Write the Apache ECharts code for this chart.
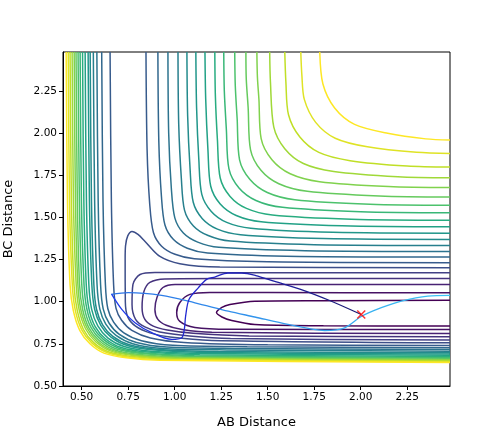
<!DOCTYPE html>
<html>
<head>
<meta charset="utf-8">
<script src="https://cdn.jsdelivr.net/npm/echarts@6/dist/echarts.min.js"></script>
<style>
html, body { margin: 0; padding: 0; background: #fff; }
#main { width: 500px; height: 434px; }
</style>
</head>
<body>
<div id="main"></div>
<script>
// tick labels on both axes
var xTicks = [0.5, 0.75, 1.0, 1.25, 1.5, 1.75, 2.0, 2.25];
var yTicks = [0.5, 0.75, 1.0, 1.25, 1.5, 1.75, 2.0, 2.25];

// lowest 6 levels: loops in the BC valley, open to the right
var loopLevels = [
    [[2.48,1.009],[1.8,1.006],[1.431,1.003],[1.297,0.983],[1.254,0.966],[1.225,0.935],[1.254,0.909],[1.307,0.888],[1.431,0.864],[1.8,0.857],[2.48,0.855]],
    [[2.48,1.053],[1.5,1.054],[1.189,1.055],[1.082,1.043],[1.028,0.995],[1.011,0.936],[1.028,0.883],[1.109,0.847],[1.297,0.836],[2.48,0.835]],
    [[2.48,1.102],[1.3,1.102],[1.002,1.102],[0.937,1.084],[0.905,1.025],[0.894,0.954],[0.91,0.895],[0.955,0.86],[1.04,0.835],[1.2,0.818],[2.48,0.811]],
    [[2.48,1.138],[1.3,1.137],[0.948,1.135],[0.867,1.114],[0.835,1.06],[0.825,0.966],[0.84,0.895],[0.885,0.855],[0.96,0.832],[1.1,0.812],[1.4,0.797],[2.48,0.792]],
    [[2.48,1.171],[1.3,1.172],[0.894,1.173],[0.814,1.161],[0.776,1.102],[0.771,0.983],[0.79,0.895],[0.84,0.85],[0.92,0.82],[1.08,0.797],[1.3,0.782],[2.48,0.772]],
    [[2.48,1.201],[1.243,1.205],[1.028,1.225],[0.921,1.268],[0.841,1.357],[0.803,1.399],[0.771,1.416],[0.748,1.39],[0.736,1.33],[0.734,1.25],[0.735,1.0],[0.748,0.91],[0.79,0.855],[0.867,0.815],[0.975,0.79],[1.2,0.77],[2.48,0.756]]
];

// next 16 levels, outer branch (top edge -> right edge)
var outerLevels = [
    [[0.846,2.48],[0.852,1.9],[0.866,1.58],[0.886,1.41],[0.93,1.329],[1.002,1.281],[1.106,1.254],[1.5,1.236],[2.48,1.231]],
    [[0.910,2.48],[0.915,1.95],[0.929,1.625],[0.948,1.454],[0.994,1.368],[1.068,1.317],[1.177,1.288],[1.6,1.269],[2.48,1.264]],
    [[0.964,2.48],[0.968,2.0],[0.982,1.677],[1.001,1.497],[1.047,1.407],[1.124,1.353],[1.238,1.322],[1.7,1.302],[2.48,1.297]],
    [[1.018,2.48],[1.022,2.05],[1.036,1.732],[1.053,1.543],[1.101,1.449],[1.18,1.392],[1.299,1.359],[1.75,1.338],[2.48,1.333]],
    [[1.066,2.48],[1.07,2.1],[1.083,1.787],[1.10,1.589],[1.149,1.492],[1.23,1.43],[1.354,1.397],[1.8,1.374],[2.48,1.369]],
    [[1.114,2.48],[1.118,2.15],[1.13,1.843],[1.146,1.636],[1.197,1.535],[1.28,1.47],[1.409,1.435],[1.85,1.411],[2.48,1.406]],
    [[1.163,2.48],[1.167,2.2],[1.179,1.9],[1.194,1.684],[1.245,1.579],[1.331,1.511],[1.465,1.474],[1.9,1.45],[2.48,1.444]],
    [[1.216,2.48],[1.219,2.22],[1.23,1.958],[1.245,1.733],[1.298,1.624],[1.386,1.553],[1.525,1.514],[1.95,1.489],[2.48,1.483]],
    [[1.264,2.48],[1.267,2.25],[1.278,2.021],[1.292,1.787],[1.346,1.674],[1.437,1.6],[1.58,1.559],[2.0,1.533],[2.48,1.527]],
    [[1.323,2.48],[1.326,2.28],[1.336,2.084],[1.349,1.841],[1.405,1.724],[1.498,1.647],[1.646,1.604],[2.05,1.577],[2.48,1.571]],
    [[1.383,2.48],[1.385,2.32],[1.395,2.152],[1.408,1.90],[1.464,1.779],[1.56,1.699],[1.713,1.654],[2.1,1.626],[2.48,1.62]],
    [[1.442,2.48],[1.445,2.33],[1.453,2.2],[1.465,1.966],[1.523,1.841],[1.621,1.758],[1.779,1.711],[2.15,1.682],[2.48,1.676]],
    [[1.511,2.48],[1.515,2.3],[1.533,2.035],[1.592,1.907],[1.692,1.819],[1.855,1.772],[2.2,1.741],[2.48,1.735]],
    [[1.592,2.48],[1.598,2.3],[1.612,2.108],[1.673,1.976],[1.775,1.885],[1.943,1.836],[2.25,1.804],[2.48,1.798]],
    [[1.678,2.48],[1.684,2.34],[1.697,2.199],[1.758,2.063],[1.863,1.969],[2.036,1.918],[2.3,1.885],[2.48,1.879]],
    [[1.78,2.48],[1.797,2.29],[1.86,2.148],[1.967,2.051],[2.145,1.998],[2.35,1.965],[2.48,1.958]]
];

// same 16 levels, inner branch along the repulsive wall
var innerLevels = [
    [[0.653,2.48],[0.66,1.6],[0.672,1.1],[0.685,0.96],[0.715,0.89],[0.77,0.83],[0.87,0.785],[1.05,0.758],[1.5,0.744],[2.48,0.740]],
    [[0.608,2.48],[0.615,1.6],[0.628,1.1],[0.641,0.958],[0.672,0.879],[0.727,0.815],[0.822,0.768],[0.991,0.741],[1.39,0.733],[2.48,0.727]],
    [[0.582,2.48],[0.589,1.6],[0.602,1.1],[0.616,0.957],[0.648,0.872],[0.703,0.806],[0.795,0.758],[0.957,0.731],[1.326,0.723],[2.48,0.716]],
    [[0.563,2.48],[0.57,1.6],[0.583,1.1],[0.598,0.956],[0.63,0.867],[0.685,0.80],[0.775,0.751],[0.932,0.723],[1.28,0.714],[2.48,0.706]],
    [[0.546,2.48],[0.553,1.6],[0.566,1.1],[0.58,0.955],[0.613,0.863],[0.668,0.794],[0.756,0.744],[0.909,0.717],[1.236,0.705],[2.48,0.697]],
    [[0.535,2.48],[0.542,1.6],[0.555,1.1],[0.57,0.955],[0.603,0.86],[0.658,0.79],[0.745,0.74],[0.895,0.713],[1.21,0.698],[2.48,0.689]],
    [[0.519,2.48],[0.526,1.6],[0.539,1.1],[0.554,0.954],[0.587,0.856],[0.642,0.784],[0.728,0.734],[0.873,0.706],[1.169,0.692],[2.48,0.682]],
    [[0.505,2.48],[0.512,1.6],[0.525,1.1],[0.54,0.954],[0.573,0.852],[0.628,0.78],[0.713,0.728],[0.855,0.701],[1.135,0.685],[2.48,0.675]],
    [[0.492,2.48],[0.499,1.6],[0.513,1.1],[0.529,0.953],[0.562,0.849],[0.617,0.776],[0.70,0.724],[0.839,0.696],[1.106,0.68],[2.48,0.669]],
    [[0.481,2.48],[0.488,1.6],[0.501,1.1],[0.517,0.953],[0.551,0.846],[0.606,0.772],[0.688,0.719],[0.824,0.692],[1.077,0.675],[2.48,0.664]],
    [[0.47,2.48],[0.477,1.6],[0.489,1.1],[0.506,0.952],[0.54,0.843],[0.595,0.768],[0.675,0.715],[0.808,0.687],[1.048,0.671],[2.48,0.659]],
    [[0.46,2.48],[0.467,1.6],[0.48,1.1],[0.496,0.952],[0.531,0.841],[0.586,0.764],[0.665,0.711],[0.796,0.683],[1.024,0.667],[2.48,0.655]],
    [[0.449,2.48],[0.456,1.6],[0.471,1.1],[0.487,0.951],[0.522,0.838],[0.577,0.761],[0.655,0.708],[0.783,0.68],[1.0,0.664],[2.48,0.651]],
    [[0.438,2.48],[0.445,1.6],[0.459,1.1],[0.476,0.951],[0.51,0.835],[0.565,0.757],[0.643,0.703],[0.768,0.675],[0.972,0.66],[2.48,0.647]],
    [[0.428,2.48],[0.435,1.6],[0.45,1.1],[0.466,0.95],[0.501,0.833],[0.556,0.754],[0.633,0.70],[0.756,0.671],[0.949,0.657],[2.48,0.643]],
    [[0.417,2.48],[0.424,1.6],[0.438,1.1],[0.455,0.95],[0.49,0.83],[0.545,0.75],[0.62,0.695],[0.74,0.667],[0.92,0.653],[2.48,0.639]]
];

// trajectories
var trajBlue = [[0.662,1.043],[0.716,0.954],[0.787,0.875],[0.877,0.816],[0.984,0.776],[1.038,0.786],[1.052,0.835],[1.059,0.914],[1.077,1.013],[1.127,1.082],[1.172,1.132],[1.216,1.146],[1.286,1.170],[1.361,1.170],[1.436,1.155],[1.538,1.120],[1.681,1.072],[1.833,1.007],[2.003,0.924]];
var trajCyan = [[0.658,1.043],[0.751,1.053],[0.930,1.037],[1.109,0.993],[1.288,0.944],[1.431,0.909],[1.609,0.865],[1.806,0.829],[1.914,0.845],[2.003,0.912],[2.111,0.964],[2.218,1.003],[2.361,1.033],[2.48,1.037]];
var endPoint = [[2.003, 0.924]];

// viridis
var viridisStops = ['#440154','#482475','#414487','#355f8d','#2a788e','#21918c','#22a884','#44bf70','#7ad151','#bddf26','#fde725'];
function viridis(t) {
    var p = t * 10, i = Math.min(9, Math.floor(p)), f = p - i;
    var a = viridisStops[i], b = viridisStops[i + 1];
    var c = [1, 3, 5].map(function (k) {
        var va = parseInt(a.substr(k, 2), 16), vb = parseInt(b.substr(k, 2), 16);
        return Math.round(va + (vb - va) * f);
    });
    return 'rgb(' + c.join(',') + ')';
}

var nLevels = loopLevels.length + outerLevels.length;
var series = [];
function contourSeries(pts, lvl) {
    return {
        type: 'line', data: pts, showSymbol: false, smooth: 0.3, silent: true,
        lineStyle: { color: viridis(lvl / (nLevels - 1)), width: 1.5 }, z: 2
    };
}
loopLevels.forEach(function (pts, i) { series.push(contourSeries(pts, i)); });
outerLevels.forEach(function (pts, i) { series.push(contourSeries(pts, loopLevels.length + i)); });
innerLevels.forEach(function (pts, i) { series.push(contourSeries(pts, loopLevels.length + i)); });

series.push({
    type: 'line', data: trajCyan, showSymbol: false, smooth: 0.3, silent: true, z: 4,
    lineStyle: { width: 1.3, color: new echarts.graphic.LinearGradient(0, 0, 1, 0, [
        { offset: 0, color: '#2a6fe6' }, { offset: 1, color: '#3cc6f4' }]) }
});
series.push({
    type: 'line', data: trajBlue, showSymbol: false, smooth: 0.3, silent: true, z: 5,
    lineStyle: { width: 1.3, color: new echarts.graphic.LinearGradient(0, 0, 1, 0, [
        { offset: 0, color: '#1f3ff0' }, { offset: 0.4, color: '#2222c8' }, { offset: 1, color: '#1a1a6e' }]) }
});
series.push({
    type: 'scatter', data: endPoint, silent: true, z: 6,
    symbol: 'path://M0,0L10,10M10,0L0,10', symbolSize: 8,
    itemStyle: { color: 'rgba(0,0,0,0)', borderColor: '#ff0000', borderWidth: 1.5 }
});

var fmt = function (v) { return v.toFixed(2); };
var axisCommon = {
    type: 'value',
    nameLocation: 'middle',
    nameTextStyle: { fontFamily: 'DejaVu Sans', fontSize: 13, color: '#000' },
    axisLine: { show: true, onZero: false, lineStyle: { color: '#000', width: 1 } },
    splitLine: { show: false },
    axisTick: { show: true, length: 4, lineStyle: { color: '#000' } },
    axisLabel: { fontFamily: 'DejaVu Sans', fontSize: 10.5, color: '#000', margin: 6, formatter: fmt }
};

var myChart = echarts.init(document.getElementById('main'));
var option = {
    animation: false,
    backgroundColor: '#fff',
    grid: { left: 63, right: 50, top: 52, bottom: 48, containLabel: false, outerBoundsMode: 'none',
            show: true, borderColor: '#000', borderWidth: 1 },
    xAxis: echarts.util.merge({
        min: 0.40, max: 2.48, name: 'AB Distance', nameGap: 30,
        axisTick: { customValues: xTicks }, axisLabel: { customValues: xTicks }
    }, axisCommon),
    yAxis: echarts.util.merge({
        min: 0.5, max: 2.48, name: 'BC Distance', nameGap: 48,
        axisTick: { customValues: yTicks }, axisLabel: { customValues: yTicks }
    }, axisCommon),
    series: series
};
myChart.setOption(option);
</script>
</body>
</html>
